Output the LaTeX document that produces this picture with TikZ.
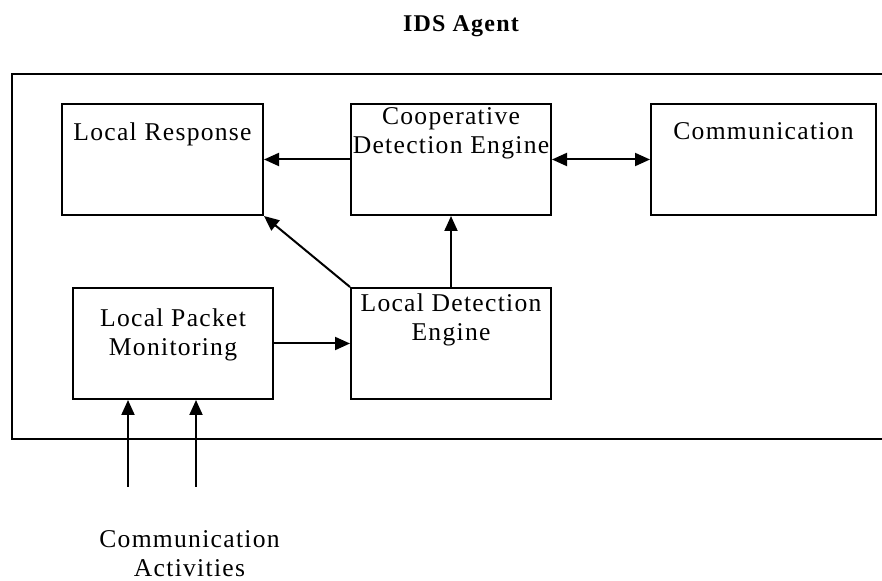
\documentclass[tikz,border=0pt]{standalone}
\usepackage{fontspec}
\setmainfont{Liberation Serif}[LetterSpace=5]
\usetikzlibrary{arrows.meta, positioning}

\begin{document}
\begin{tikzpicture}[
  x=0.5pt, y=-0.5pt,
  node distance = 35.5pt and 43pt,
  box/.style    = {draw, line width=1pt, minimum width=100pt,
                   minimum height=55.5pt, inner sep=0pt},
  txt/.style    = {align=center, inner sep=0pt,
                   font=\fontsize{12.8}{14.5}\selectfont},
  arr/.style    = {-{Triangle[length=7.5pt, width=6.5pt]}, line width=1pt},
  darr/.style   = {{Triangle[length=7.5pt, width=6.5pt]}-{Triangle[length=7.5pt, width=6.5pt]},
                   line width=1pt},
  title/.style  = {font=\fontsize{12}{13}\selectfont\bfseries, inner sep=0pt}
]
\useasboundingbox (0,0) rectangle (882,581);
\clip (0,0) rectangle (882,581);

%% ---- TITLE AND FRAME ----
\node[title] (idslabel) at (461,26) {IDS Agent};
\node[draw, line width=1pt, minimum width=444pt, minimum height=182.5pt,
      inner sep=0pt] (agent) at (456,256.5) {};

%% ---- TOP ROW ----
\node[box, minimum width=100.5pt] (resp) at (162.5,159.5) {};
\node[box, right=of resp]                     (coop) {};
\node[box, right=49pt of coop,
      minimum width=112.5pt]                  (comm) {};

%% ---- BOTTOM ROW ----
\node[box, below=of coop]    (lde) {};
\node[box, left=38pt of lde] (lpm) {};

% box texts
\node[txt, below=9.5pt of resp.north]  (resptext) {Local Response};
\node[txt, below=2pt of coop.north]    (cooptext) {Cooperative\\Detection Engine};
\node[txt, below=9.5pt of comm.north]  (commtext) {Communication};
\node[txt, below=10.5pt of lpm.north]  (lpmtext)  {Local Packet\\Monitoring};
\node[txt, below=3pt of lde.north]     (ldetext)  {Local Detection\\Engine};

%% ---- INPUTS ----
\node[txt] (acts) at (189.5,554) {Communication\\Activities};
\coordinate (in1) at (128,487);
\coordinate (in2) at (196,487);

% arrows
\draw[arr]  (coop) -- (resp);
\draw[darr] (coop) -- (comm);
\draw[arr]  (lde) -- (coop);
\draw[arr]  (lde.north west) -- (resp.south east);
\draw[arr]  (lpm) -- (lde);
\draw[arr]  (in1) -- (in1 |- lpm.south);
\draw[arr]  (in2) -- (in2 |- lpm.south);

\end{tikzpicture}
\end{document}
